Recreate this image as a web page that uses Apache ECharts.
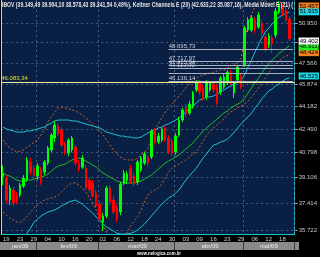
<!DOCTYPE html>
<html><head><meta charset="utf-8">
<script src="https://cdn.jsdelivr.net/npm/echarts@6/dist/echarts.min.js"></script>
<style>html,body{margin:0;padding:0;background:#000;}#c{width:320px;height:257px;}</style>
</head><body><div id="c"></div>
<script>
const dates = [
'2009-01-19','2009-01-20','2009-01-21','2009-01-22','2009-01-23','2009-01-26','2009-01-27','2009-01-28','2009-01-29','2009-01-30',
'2009-02-02','2009-02-03','2009-02-04','2009-02-05','2009-02-06','2009-02-09','2009-02-10','2009-02-11','2009-02-12','2009-02-13',
'2009-02-16','2009-02-17','2009-02-18','2009-02-19','2009-02-20','2009-02-25','2009-02-26','2009-02-27',
'2009-03-02','2009-03-03','2009-03-04','2009-03-05','2009-03-06','2009-03-09','2009-03-10','2009-03-11','2009-03-12','2009-03-13',
'2009-03-16','2009-03-17','2009-03-18','2009-03-19','2009-03-20','2009-03-23','2009-03-24','2009-03-25','2009-03-26','2009-03-27',
'2009-03-30','2009-03-31',
'2009-04-01','2009-04-02','2009-04-03','2009-04-06','2009-04-07','2009-04-08','2009-04-09','2009-04-13','2009-04-14','2009-04-15',
'2009-04-16','2009-04-17','2009-04-20','2009-04-22','2009-04-23','2009-04-24','2009-04-27','2009-04-28','2009-04-29','2009-04-30',
'2009-05-04','2009-05-05','2009-05-06','2009-05-07','2009-05-08','2009-05-11','2009-05-12','2009-05-13','2009-05-14','2009-05-15',
'2009-05-18','2009-05-19','2009-05-20','2009-05-21','2009-05-22'];

// [open, close, low, high] in thousands of points
const ohlc = [
[39.149,39.342,38.578,39.904],[39.05,37.61,37.42,39.25],[37.61,38.39,37.29,38.59],[38.26,37.42,37.23,38.46],[37.93,37.55,37.35,38.13],
[37.93,38.59,37.80,38.72],[38.52,39.05,38.39,39.25],[38.92,40.28,38.79,40.49],[40.14,39.46,39.25,40.42],[39.72,39.25,39.05,39.93],
[39.19,39.86,38.92,40.07],[39.59,38.79,38.59,39.79],[39.46,40.14,39.25,40.28],[40.07,41.12,39.93,41.26],[40.98,42.04,40.84,42.19],
[41.83,42.78,41.54,43.07],[42.70,42.12,41.97,42.92],[42.41,41.33,41.19,42.63],[41.40,40.84,40.63,41.54],[40.77,41.68,40.56,41.83],
[40.98,41.83,40.84,41.97],[41.19,40.07,39.86,41.33],[40.07,39.66,39.46,40.28],[39.79,40.42,39.66,40.63],[39.72,38.39,38.26,39.93],
[38.92,38.26,38.06,39.12],[38.72,37.87,37.74,38.92],[38.06,37.23,37.10,38.26],[37.35,36.40,36.28,37.55],[36.21,36.59,35.66,36.78],
[36.59,38.39,36.46,38.52],[38.39,37.48,37.29,38.59],[37.61,36.84,36.72,37.87],[37.10,36.40,36.21,37.29],[36.84,38.65,36.65,38.79],
[38.72,39.39,38.59,39.59],[38.92,39.32,38.65,39.52],[39.72,38.79,38.65,39.93],[39.19,38.72,38.52,39.39],[38.79,40.14,38.59,40.28],
[39.59,40.42,39.46,40.56],[40.07,40.70,39.93,40.84],[40.49,40.07,39.86,40.63],[40.49,42.34,40.35,42.48],[42.34,41.54,41.33,42.56],
[41.54,41.97,41.40,42.19],[41.68,42.48,41.54,42.63],[42.56,41.68,41.54,42.70],[41.83,40.84,40.70,42.04],[41.61,40.77,40.56,41.83],
[40.84,41.97,40.63,42.19],[42.04,43.14,41.90,43.37],[43.14,43.89,43.00,44.04],[44.04,43.59,43.37,44.34],[43.66,44.34,43.52,44.57],
[44.12,45.19,43.97,45.34],[45.42,45.97,45.26,46.20],[45.97,45.26,45.03,46.20],[45.58,44.80,44.57,45.81],[44.88,45.97,44.65,46.20],
[45.42,45.97,45.26,46.12],[45.89,45.42,45.19,46.04],[45.58,44.42,44.27,45.81],[45.26,46.36,45.03,46.52],[45.66,46.44,45.50,46.68],
[45.97,46.84,45.81,47.00],[46.76,45.97,45.81,47.00],[45.19,45.97,44.80,46.12],[46.20,47.25,46.04,47.41],[46.44,45.66,45.50,46.68],
[47.41,50.51,47.25,50.69],[50.34,51.21,50.17,51.47],[50.34,51.39,50.17,51.65],[51.21,50.34,50.08,51.47],[50.60,51.65,50.43,51.92],
[50.95,50.08,49.83,51.21],[49.74,48.73,48.47,50.00],[49.06,49.83,48.81,50.08],[49.66,49.15,48.39,49.91],[49.91,52.01,49.66,52.28],
[51.92,52.64,51.74,52.91],[52.37,51.83,51.56,52.64],[52.10,51.21,51.04,52.46],[51.30,49.583,49.40,51.56]];

const keltnerUpper = [42.63,42.48,42.41,42.34,42.26,42.26,42.26,42.34,42.34,42.41,
42.48,42.56,42.63,42.78,42.92,43.07,43.14,43.14,43.14,43.14,
43.07,43.07,43.00,42.92,42.85,42.78,42.70,42.63,42.56,42.41,
42.26,42.19,42.12,42.04,41.97,41.97,41.90,41.90,41.83,41.83,
41.90,42.04,42.19,42.34,42.41,42.56,42.63,42.78,42.85,43.00,
43.14,43.29,43.52,43.74,43.97,44.19,44.42,44.65,44.73,44.88,
44.88,44.96,45.11,45.26,45.42,45.58,45.74,45.89,46.04,46.20,
46.60,47.25,47.82,48.47,49.06,49.66,50.17,50.51,50.86,51.21,
51.47,51.65,51.83,51.895];

const keltnerLower = [35.08,35.05,34.99,34.93,34.99,35.11,35.23,35.53,35.84,36.21,
36.40,36.59,36.72,36.84,36.91,36.97,37.10,37.23,37.35,37.48,
37.55,37.61,37.48,37.35,37.16,36.97,36.78,36.53,36.34,36.09,
35.91,35.78,35.66,35.53,35.48,35.48,35.48,35.53,35.60,35.72,
35.91,36.09,36.34,36.59,36.84,37.10,37.35,37.55,37.74,37.87,
38.06,38.26,38.59,38.92,39.19,39.46,39.72,40.07,40.42,40.70,
41.05,41.33,41.40,41.54,41.61,41.75,41.97,42.26,42.56,42.85,
43.14,43.37,43.66,44.04,44.34,44.73,45.03,45.34,45.50,45.74,
45.89,46.12,46.28,46.378];

const ema21 = [39.39,39.25,39.19,39.05,38.92,38.85,38.85,38.92,38.92,38.99,
39.05,39.12,39.19,39.32,39.52,39.72,39.86,39.93,40.00,40.14,
40.28,40.35,40.42,40.35,40.21,40.07,39.93,39.79,39.59,39.39,
39.25,39.12,38.99,38.85,38.79,38.72,38.72,38.72,38.72,38.79,
38.85,38.99,39.12,39.25,39.46,39.66,39.86,40.07,40.21,40.35,
40.49,40.63,40.84,41.05,41.26,41.47,41.75,42.04,42.34,42.56,
42.78,43.00,43.22,43.44,43.66,43.81,44.04,44.19,44.34,44.50,
44.80,45.19,45.58,45.97,46.36,46.76,47.16,47.49,47.82,48.07,
48.39,48.56,48.81,48.999];

const bandUpper = [41.68,41.40,41.12,40.98,40.84,40.91,40.98,41.19,41.33,41.54,
41.68,42.04,42.41,43.00,43.37,43.74,44.04,44.12,44.04,43.97,
43.89,43.81,43.66,43.52,43.29,43.07,42.78,42.63,42.41,42.04,
41.68,41.33,40.98,40.70,40.49,40.35,40.28,40.28,40.28,40.42,
40.63,40.84,41.12,41.75,42.41,42.85,43.29,43.74,44.04,44.34,
44.65,44.96,45.26,45.58,45.89,46.12,46.36,46.52,46.60,46.68,
46.76,46.84,46.92,47.00,47.00,47.16,47.33,47.49,47.57,47.98,
49.49,50.77,51.74,52.37,52.82,53.00,52.91,52.73,52.64,52.73,
52.82,52.73,52.55,52.46];

const bandLower = [36.84,36.65,36.46,36.34,36.21,36.21,36.34,36.59,36.84,37.10,
37.29,37.48,37.61,37.68,37.74,37.80,37.93,38.13,38.39,38.59,
38.72,38.72,38.59,38.39,38.13,37.80,37.42,36.97,36.46,35.97,
35.60,35.29,35.11,35.05,35.11,35.29,35.60,35.97,36.28,36.53,
36.97,37.48,37.93,38.13,38.26,38.39,38.65,39.05,39.46,39.72,
39.86,40.00,40.14,40.28,40.49,40.70,40.84,41.19,41.61,42.04,
42.34,42.56,42.78,43.00,43.22,43.52,43.74,43.89,44.04,44.19,
44.34,44.57,44.88,45.19,45.58,45.97,46.36,46.76,47.16,47.49,
47.74,47.98,48.15,48.206];

const yTicks = [35.722,37.414,39.106,40.798,42.490,44.182,45.874,47.566,49.258,50.950];
const yRange = [35.48, 53.00];
const xTickDates = ['2009-01-19','2009-01-23','2009-01-29','2009-02-04','2009-02-10','2009-02-16','2009-02-20',
'2009-03-02','2009-03-06','2009-03-12','2009-03-18','2009-03-24','2009-03-30','2009-04-03','2009-04-09',
'2009-04-16','2009-04-23','2009-04-29','2009-05-06','2009-05-12','2009-05-18'];
const monthNames = {'01':'jan/09','02':'fev/09','03':'mar/09','04':'abr/09','05':'mai/09'};
const fibLevels = [48.69573, 47.71797, 47.41594, 47.11390, 46.74020, 46.13614];
const fibLabels = ['48.695,73','47.717,97','47.415,94','47.113,90','','46.136,14'];
const fibStart = '2009-03-30';
const refLevel = 46.08334, refLabel = '46.083,34';
const titleText = 'IBOV (39.149,49 39.904,10 38.578,43 39.341,54 0,49%), Keltner Channels E (20) (42.633,22 35.087,16), Média Móvel E (21) (';
const watermark = 'www.nelogica.com.br';

const L = Math.log;
const NARROW = "'Liberation Sans Narrow','Liberation Sans',sans-serif";
const fmt = v => Math.exp(v).toFixed(3);

// month groups
const monthStartIdx = [], monthMidIdx = [];
(function(){
  let start = 0;
  for (let i = 1; i <= dates.length; i++) {
    if (i === dates.length || dates[i].slice(5,7) !== dates[i-1].slice(5,7)) {
      if (start > 0) monthStartIdx.push(start);
      monthMidIdx.push(Math.round((start + i - 1) / 2));
      start = i;
    }
  }
})();

function measure(text, font){const c=document.createElement('canvas').getContext('2d');c.font=font;return c.measureText(text).width;}
const titleScale = 291 / measure(titleText, 'bold 7px "Liberation Sans"');
const wmScale = 44 / measure(watermark, 'bold 6px "Liberation Sans"');

const chart = echarts.init(document.getElementById('c'), null, {renderer:'canvas', width:320, height:257});

const gridLine = {color:'#4a5d7c', type:[2,3], width:1};
const boxLabel = (bg) => ({show:true, position:'end', formatter: p => fmt(p.value), backgroundColor:bg, color:'#000',
  fontSize:6, fontFamily:NARROW, padding:[1,1,0,1], distance:4, opacity:1});
const endBox = (arr, bg) => ({silent:true, symbol:['none','none'], animation:false, z:20,
  lineStyle:{color:'rgba(0,0,0,0)', width:1, opacity:1}, label: boxLabel(bg), emphasis:{disabled:true},
  data:[{yAxis: L(arr[arr.length-1])}]});

const fibData = fibLevels.map((v,i) => [
  {coord:[fibStart, L(v)], label:{show: !!fibLabels[i], formatter: fibLabels[i] || ' '}},
  {coord:[dates[dates.length-1], L(v)]}
]);

const lineSeries = (name, arr, color, dashed, extra) => Object.assign({
  name, type:'line', data: arr.map(L), showSymbol:false, symbol:'none', animation:false, silent:true,
  lineStyle:{color, width:1, type: dashed ? [2,2] : 'solid'}, z:3
}, extra || {});

chart.setOption({
  backgroundColor:'#000000',
  animation:false,
  grid:{left:1, right:21, top:0, bottom:23, show:true, backgroundColor:'#0a1f44', borderWidth:0},
  xAxis:[{
    type:'category', data:dates, boundaryGap:true, z:3,
    axisLine:{show:true, onZero:false, lineStyle:{color:'#1cc0cc', width:1}},
    axisTick:{show:false},
    axisLabel:{interval:(i,v)=>xTickDates.includes(v), formatter:v=>v.slice(8), color:'#d0d0d0',
      fontSize:6, fontFamily:NARROW, align:'left', margin:2},
    splitLine:{show:true, interval:(i)=>monthStartIdx.includes(i), lineStyle:gridLine}
  },{
    type:'category', data:dates, boundaryGap:true, position:'bottom', offset:8, z:3,
    axisLine:{show:false},
    axisTick:{show:true, interval:(i)=>monthStartIdx.includes(i), length:8, lineStyle:{color:'#3a3a3a', width:1}},
    axisLabel:{interval:(i)=>monthMidIdx.includes(i), formatter:v=>monthNames[v.slice(5,7)], color:'#ececec',
      fontSize:6, fontFamily:NARROW, margin:1},
    splitLine:{show:false}
  }],
  yAxis:[{
    type:'value', position:'right', min:L(yRange[0]), max:L(yRange[1]),
    axisLine:{show:true, lineStyle:{color:'#1cc0cc', width:1}},
    axisTick:{show:true, length:3, customValues:yTicks.map(L), lineStyle:{color:'#9aa4b0'}},
    axisLabel:{customValues:yTicks.map(L), formatter:v=>fmt(v), color:'#c8c8c8', fontSize:6, fontFamily:NARROW, margin:4},
    splitLine:{show:true, lineStyle:gridLine}
  },{
    type:'value', position:'left', min:L(yRange[0]), max:L(yRange[1]),
    axisLine:{show:true, lineStyle:{color:'#d9c9d3', width:1}},
    axisTick:{show:false}, axisLabel:{show:false}, splitLine:{show:false}
  }],
  graphic:[
    {type:'rect', z:1, shape:{x:0, y:242, width:299, height:8}, style:{fill:'#8a8a8a'}},
    {type:'text', z:50, x:2, y:2, scaleX:titleScale, style:{text:titleText, fill:'#e4e4e4', fontSize:7, fontWeight:'bold',
      fontFamily:'Liberation Sans', verticalAlign:'top'}},
    {type:'text', z:50, x:137, y:250, scaleX:wmScale, style:{text:watermark, fill:'#f0f0f0', fontSize:6, fontWeight:'bold',
      fontFamily:'Liberation Sans', verticalAlign:'top'}}
  ],
  series:[
    lineSeries('Bollinger sup', bandUpper, '#c8662c', true, {markLine: endBox(bandUpper, '#f08020')}),
    lineSeries('Bollinger inf', bandLower, '#c8662c', true, {markLine: endBox(bandLower, '#f08020')}),
    lineSeries('Keltner sup', keltnerUpper, '#1cc4d2', false, {markLine: endBox(keltnerUpper, '#22d4e4')}),
    lineSeries('Keltner inf', keltnerLower, '#1cc4d2', false, {markLine: endBox(keltnerLower, '#22d4e4')}),
    lineSeries('MME 21', ema21, '#22bb22', false, {markLine: endBox(ema21, '#22ee22')}),
    {
      name:'Fibo', type:'line', data:[], silent:true, animation:false,
      markLine:{silent:true, symbol:['none','none'], animation:false,
        lineStyle:{color:'#aab2c2', type:'solid', width:1},
        label:{position:'insideStartTop', color:'#c8d0dc', fontSize:6, fontFamily:NARROW, distance:[0,0]},
        data: fibData}
    },
    {
      name:'Ref', type:'line', data:[], silent:true, animation:false,
      markLine:{silent:true, symbol:['none','none'], animation:false,
        lineStyle:{color:'#f0f0a0', type:'solid', width:1},
        label:{position:'insideStartTop', formatter:refLabel, color:'#e0e030', fontSize:6, fontFamily:NARROW, distance:[0,0]},
        data:[{yAxis:L(refLevel)}]}
    },
    {
      name:'IBOV', type:'candlestick', data: ohlc.map(r=>r.map(L)), barWidth:2, animation:false, silent:true, z:4,
      itemStyle:{color:'#00ff00', color0:'#ff0000', borderColor:'#00ff00', borderColor0:'#ff0000', borderWidth:1},
      markLine: endBox(ohlc.map(r=>r[1]), '#f4f4f4')
    }
  ]
});
</script>
</body></html>
